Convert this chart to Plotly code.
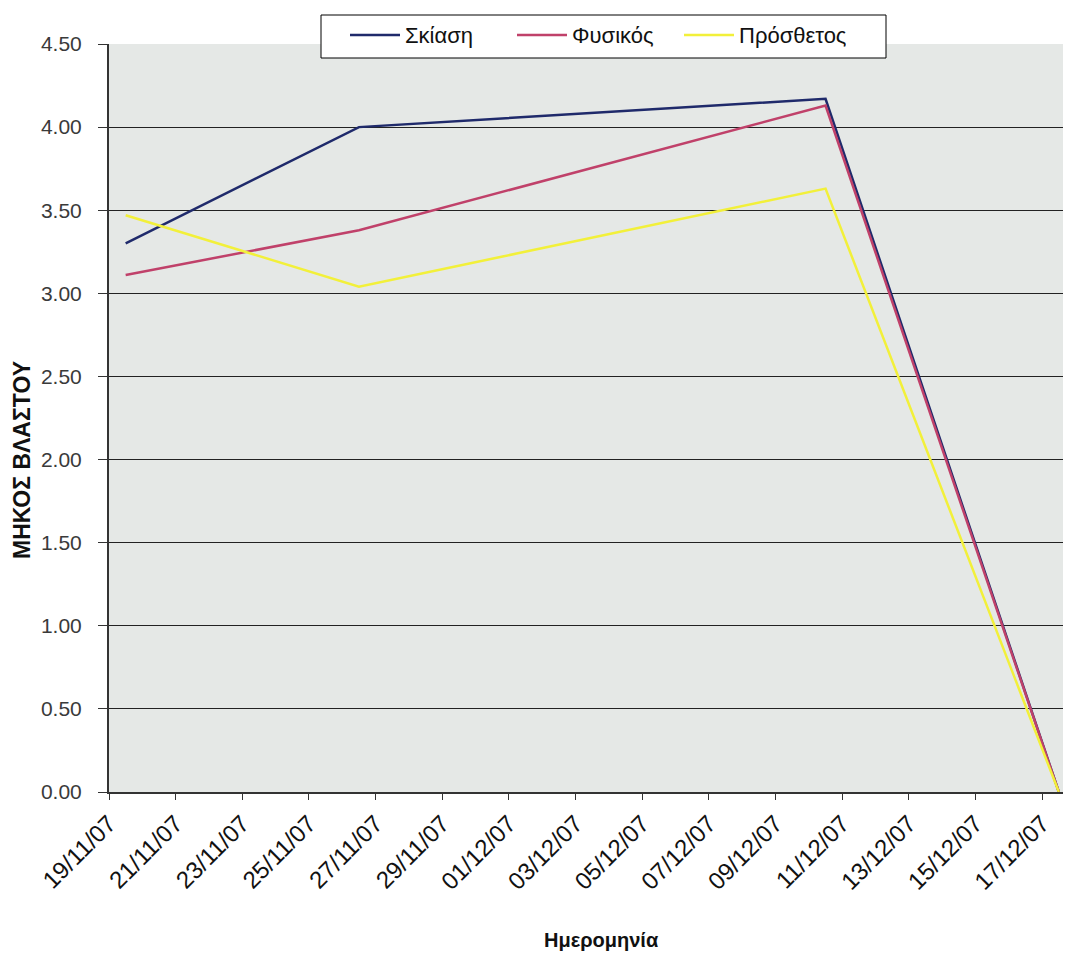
import pandas as pd
import plotly.graph_objects as go

dates = ["2007-11-19", "2007-11-26", "2007-12-10", "2007-12-17"]
skiasi = [3.30, 4.00, 4.17, 0.00]
fysikos = [3.11, 3.38, 4.13, 0.00]
prosthetos = [3.47, 3.04, 3.63, 0.00]

series = [
    ("Σκίαση", skiasi, "#1f2a6b"),
    ("Φυσικός", fysikos, "#c0416a"),
    ("Πρόσθετος", prosthetos, "#f2f03a"),
]

# Excel "between dates" placement: points sit mid-day
x = pd.to_datetime(dates) + pd.Timedelta(hours=12)

fig = go.Figure()
for name, vals, col in series:
    fig.add_trace(go.Scatter(x=x, y=vals, mode="lines", name=name,
                             line=dict(color=col, width=2.5)))

fig.update_layout(
    width=1066, height=955,
    margin=dict(l=109, r=3, t=44, b=163),
    paper_bgcolor="white",
    plot_bgcolor="#e5e8e6",
    font=dict(family="Liberation Sans, Arial", color="#222"),
    legend=dict(orientation="h", x=(595.5 - 109) / 954, xanchor="center",
                y=1.04, yanchor="top",
                bgcolor="rgba(0,0,0,0)", borderwidth=0,
                font=dict(size=22, color="#111"), entrywidth=102,
                itemwidth=50, tracegroupgap=0),
    showlegend=True,
)
# legend frame (white box with black border), wider than plotly's own legend box
fig.add_shape(type="rect", xref="paper", yref="paper", layer="above",
              x0=(321 - 109) / 954, x1=(886 - 109) / 954,
              y0=(792 - 58) / 748, y1=(792 - 15) / 748,
              fillcolor="white", line=dict(color="black", width=1))

fig.update_xaxes(
    type="date",
    range=["2007-11-19", "2007-12-17 15:00"],
    tick0="2007-11-19", dtick=2 * 86400000,
    tickformat="%d/%m/%y", tickangle=-45,
    tickfont=dict(size=24, color="#111"),
    ticks="outside", ticklen=6, tickcolor="#333",
    showline=True, linecolor="#333", linewidth=2,
    showgrid=False, zeroline=False,
)
fig.update_yaxes(
    range=[0, 4.5], dtick=0.5, tickformat=".2f",
    tickfont=dict(size=21, color="#3a3a3a"),
    ticks="outside", ticklen=9, tickcolor="#333",
    ticklabelstandoff=12,
    showline=True, linecolor="#333", linewidth=2,
    showgrid=True, gridcolor="#222", gridwidth=1.2,
    zeroline=False,
)

fig.add_annotation(text="<b>Ημερομηνία</b>", xref="paper", yref="paper",
                   x=(601 - 109) / 954, y=(792 - 940) / 748,
                   xanchor="center", yanchor="middle", showarrow=False,
                   font=dict(size=20, color="#111"))
fig.add_annotation(text="<b>ΜΗΚΟΣ ΒΛΑΣΤΟΥ</b>", xref="paper", yref="paper",
                   x=(22 - 109) / 954, y=(792 - 460) / 748, textangle=-90,
                   xanchor="center", yanchor="middle", showarrow=False,
                   font=dict(size=23, color="#111"))

fig.write_html("out.html")
